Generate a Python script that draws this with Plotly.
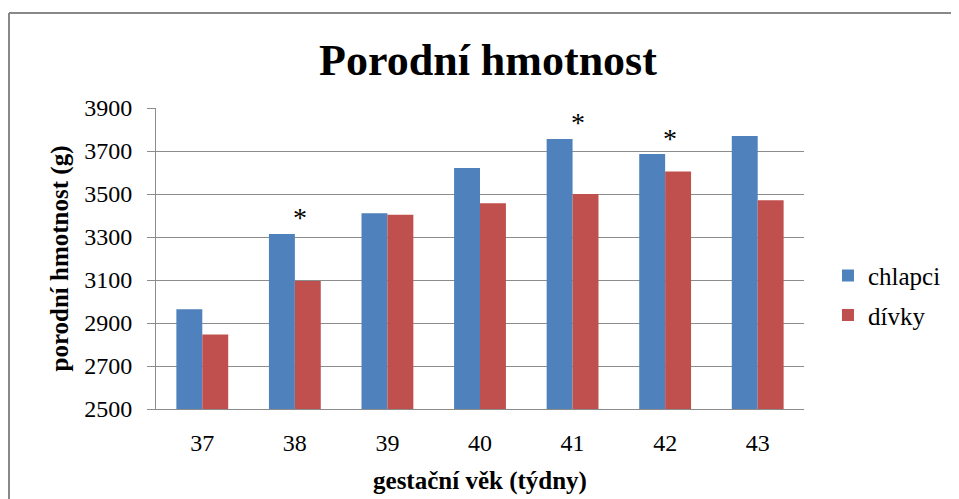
import plotly.graph_objects as go

weeks = ["37", "38", "39", "40", "41", "42", "43"]
chlapci = [2964, 3314, 3410, 3621, 3756, 3686, 3770]
divky = [2846, 3095, 3404, 3457, 3500, 3605, 3471]
significant = [False, True, False, False, True, True, False]

BLUE = "#4F81BD"
RED = "#C0504D"
GRID = "#8C8C8C"
SERIF = "Liberation Serif"

# page body has an 8px margin: the figure is drawn at (8, 8)
FW, FH = 951, 491
L, T, W, H = 148, 100, 648, 301

fig = go.Figure()
fig.add_trace(go.Bar(x=weeks, y=chlapci, name="chlapci", marker_color=BLUE,
                     marker_line_width=0, legendgroup="a"))
fig.add_trace(go.Bar(x=weeks, y=divky, name="dívky", marker_color=RED,
                     marker_line_width=0, legendgroup="b"))

for i, (v, s) in enumerate(zip(chlapci, significant)):
    if s:
        fig.add_annotation(x=i, y=v, text="*", showarrow=False, xref="x", yref="y",
                           xshift=5, yshift=16, yanchor="middle",
                           font=dict(family=SERIF, size=28, color="black"))

# outer chart border (top and left lines)
fig.add_shape(type="line", xref="paper", yref="paper",
              x0=(1 - L) / W, x1=(FW - L) / W,
              y0=(T + H - 5) / H, y1=(T + H - 5) / H,
              line=dict(color="#888888", width=2))
fig.add_shape(type="line", xref="paper", yref="paper",
              x0=(1 - L) / W, x1=(1 - L) / W,
              y0=(T + H - 5) / H, y1=(T + H - FH) / H,
              line=dict(color="#888888", width=2))

fig.update_layout(
    width=FW, height=FH,
    margin=dict(l=L, r=FW - L - W, t=T, b=FH - T - H, autoexpand=False),
    paper_bgcolor="white", plot_bgcolor="white",
    barmode="group", bargap=0.44, bargroupgap=0,
    title=dict(text="<b>Porodní hmotnost</b>", x=480 / FW, xanchor="center",
               y=1 - 52 / FH, yanchor="middle",
               font=dict(family=SERIF, size=44, color="black")),
    font=dict(family=SERIF, color="black"),
    legend=dict(x=1.037, y=0.378, xanchor="left", yanchor="middle",
                font=dict(family=SERIF, size=25, color="black"),
                tracegroupgap=4, traceorder="grouped", bgcolor="rgba(0,0,0,0)"),
    showlegend=True,
)
fig.update_yaxes(range=[2500, 3900], dtick=200, tick0=2500, automargin=False,
                 showgrid=True, gridcolor=GRID, gridwidth=1,
                 showline=True, linecolor=GRID, linewidth=1,
                 ticks="outside", ticklen=8, tickcolor=GRID,
                 ticklabelstandoff=10,
                 tickfont=dict(family=SERIF, size=24, color="black"),
                 title=dict(text="<b>porodní hmotnost (g)</b>", standoff=8,
                            font=dict(family=SERIF, size=25, color="black")),
                 zeroline=False)
fig.update_xaxes(type="category", range=[-0.5, 6.5], automargin=False,
                 showline=True, linecolor=GRID, linewidth=1, ticks="",
                 tickfont=dict(family=SERIF, size=24, color="black"),
                 ticklabelstandoff=12,
                 title=dict(text="<b>gestační věk (týdny)</b>", standoff=16,
                            font=dict(family=SERIF, size=25, color="black")))

fig.write_html("out.html")
